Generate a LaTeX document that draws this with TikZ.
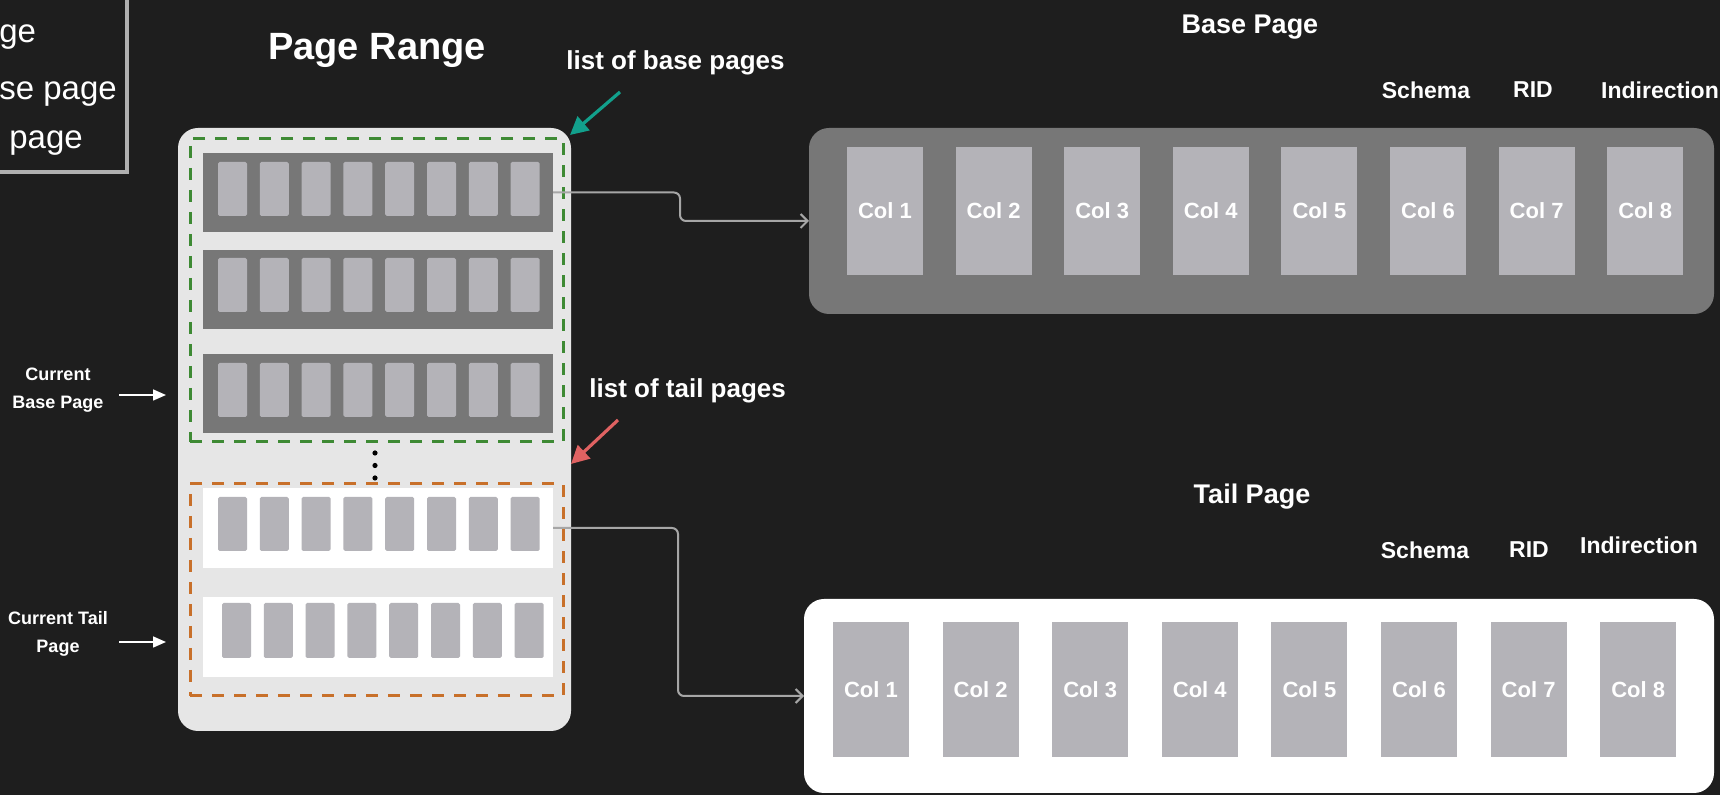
\documentclass[tikz,border=0pt]{standalone}
\usepackage{fontspec}
\setmainfont{Liberation Sans}
\usetikzlibrary{arrows.meta}

\definecolor{bg}{HTML}{1E1E1E}
\definecolor{rangefill}{HTML}{E6E6E6}
\definecolor{pagegray}{HTML}{777777}
\definecolor{colgray}{HTML}{B4B3B8}
\definecolor{greendash}{HTML}{3E8A34}
\definecolor{orangedash}{HTML}{C8702A}
\definecolor{tealarrow}{HTML}{12A08C}
\definecolor{redarrow}{HTML}{E06262}
\definecolor{linkgray}{HTML}{A6A6A6}
\definecolor{legendgray}{HTML}{B0B0B0}

\begin{document}
\begin{tikzpicture}[x=0.5pt,y=-0.5pt,
  box/.style={inner sep=0pt, outer sep=0pt, draw=none},
  rangebox/.style={box, fill=rangefill, rounded corners=10pt,
    minimum width=196.5pt, minimum height=301.5pt},
  baserow/.style={box, fill=pagegray, minimum width=175pt, minimum height=39.5pt},
  tailrow/.style={box, fill=white, minimum width=175pt, minimum height=40pt},
  minicol/.style={box, fill=colgray, rounded corners=0.8pt,
    minimum width=14.5pt, minimum height=27pt},
  bigcol/.style={box, fill=colgray, minimum width=38pt, text=white,
    font=\fontsize{11}{13}\selectfont\bfseries},
  dashgroup/.style={box, line width=1.5pt, dash pattern=on 6pt off 5pt},
  dot/.style={circle, fill=black, inner sep=0pt, minimum size=2.6pt},
  title/.style={text=white, inner sep=0pt, font=\fontsize{13.5}{16}\selectfont\bfseries},
  fieldlabel/.style={text=white, inner sep=0pt, font=\fontsize{11.5}{14}\selectfont\bfseries},
  note/.style={text=white, inner sep=0pt, anchor=west, font=\fontsize{13}{16}\selectfont\bfseries},
  sidelabel/.style={text=white, inner sep=0pt, align=center,
    font=\fontsize{9}{14}\selectfont\bfseries},
  sidearrow/.style={draw=white, line width=0.8pt, -{Triangle[length=6.5pt,width=5.5pt]}},
  pointer/.style={line width=1.6pt, -{Triangle[length=9pt,width=9pt]}},
  link/.style={draw=linkgray, line width=1pt, rounded corners=3pt,
    -{Straight Barb[length=3.5pt,width=7pt]}},
  legendtext/.style={text=white, inner sep=0pt, anchor=base west,
    font=\fontsize{16.5}{19}\selectfont}
]
\useasboundingbox (0,0) rectangle (1720,795);
\fill[bg] (0,0) rectangle (1720,795);

\begin{scope}
\clip (0,0) rectangle (1720,795);

% legend box in the upper left corner
\draw[legendgray, line width=1.8pt] (-20,-20) rectangle (127,172);
\node[legendtext] (lg1) at (-1,43) {ge};
\node[legendtext] (lg2) at (-1,100) {se page};
\node[legendtext] (lg3) at (9,149) {page};

% page range container
\node[title, font=\fontsize{19}{22}\selectfont\bfseries] (prtitle) at (377,50) {Page Range};
\node[rangebox] (range) at (374.5,429.5) {};

% base pages
\node[baserow] (brow1) at (378,192.5) {};
\node[baserow] (brow2) at (378,289.5) {};
\node[baserow] (brow3) at (378,394) {};
\foreach \i in {1,...,8} {
  \node[minicol] (b1c\i) at ({232.5+41.8*(\i-1)},189) {};
  \node[minicol] (b2c\i) at ({232.5+41.8*(\i-1)},285) {};
  \node[minicol] (b3c\i) at ({232.5+41.8*(\i-1)},390) {};
}

% more pages
\node[dot] (d1) at (375,453) {};
\node[dot] (d2) at (375,465.5) {};
\node[dot] (d3) at (375,478) {};

% tail pages
\node[tailrow] (trow1) at (378,528) {};
\node[tailrow] (trow2) at (378,637) {};
\foreach \i in {1,...,8} {
  \node[minicol] (t1c\i) at ({232.5+41.8*(\i-1)},524) {};
  \node[minicol, minimum height=27.5pt] (t2c\i) at ({236.5+41.8*(\i-1)},630.5) {};
}

% dashed groups
\node[dashgroup, draw=greendash, minimum width=186.5pt, minimum height=151.5pt] (basegroup) at (376.5,290.5) {};
\node[dashgroup, draw=orangedash, minimum width=186.5pt, minimum height=106pt] (tailgroup) at (376.5,590) {};

% group annotations
\node[note] (lbase) at (566,63) {list of base pages};
\node[note] (ltail) at (589,391) {list of tail pages};
\coordinate (tealfrom) at (620,92);
\coordinate (tealto) at (570,135);
\coordinate (redfrom) at (618,420);
\coordinate (redto) at (571,464);
\draw[pointer, tealarrow] (tealfrom) -- (tealto);
\draw[pointer, redarrow] (redfrom) -- (redto);

% current page markers
\node[sidelabel] (curbase) at (58,390) {Current\\Base Page};
\node[sidelabel] (curtail) at (58,634) {Current Tail\\Page};
\coordinate (cbfrom) at (119,395);
\coordinate (cbto) at (166,395);
\coordinate (ctfrom) at (119,642);
\coordinate (ctto) at (166,642);
\draw[sidearrow] (cbfrom) -- (cbto);
\draw[sidearrow] (ctfrom) -- (ctto);

% base page detail
\node[title] (basetitle) at (1250,27) {Base Page};
\node[fieldlabel] (bschema) at (1426,90) {Schema};
\node[fieldlabel] (brid) at (1533,90) {RID};
\node[fieldlabel] (bind) at (1660,90) {Indirection};
\node[box, fill=pagegray, rounded corners=10pt, minimum width=452.5pt, minimum height=93pt] (basepanel) at (1261.5,221) {};
\foreach \i in {1,...,8}
  \node[bigcol, minimum height=64pt] (bc\i) at ({885+108.6*(\i-1)},211) {Col \i};

% tail page detail
\node[title] (tailtitle) at (1252,497) {Tail Page};
\node[fieldlabel] (tschema) at (1425,550) {Schema};
\node[fieldlabel] (trid) at (1529,550) {RID};
\node[fieldlabel] (tind) at (1639,545) {Indirection};
\node[box, fill=white, rounded corners=10pt, minimum width=455pt, minimum height=97pt] (tailpanel) at (1259,696) {};
\foreach \i in {1,...,8}
  \node[bigcol, minimum height=67.5pt] (tc\i) at ({871+109.6*(\i-1)},689.5) {Col \i};

% links from the first pages to their details
\draw[link] (brow1.east) -- ++(127,0) |- (basepanel.west);
\draw[link] (trow1.east) -- ++(125,0) |- (tailpanel.west);
\end{scope}
\end{tikzpicture}
\end{document}
